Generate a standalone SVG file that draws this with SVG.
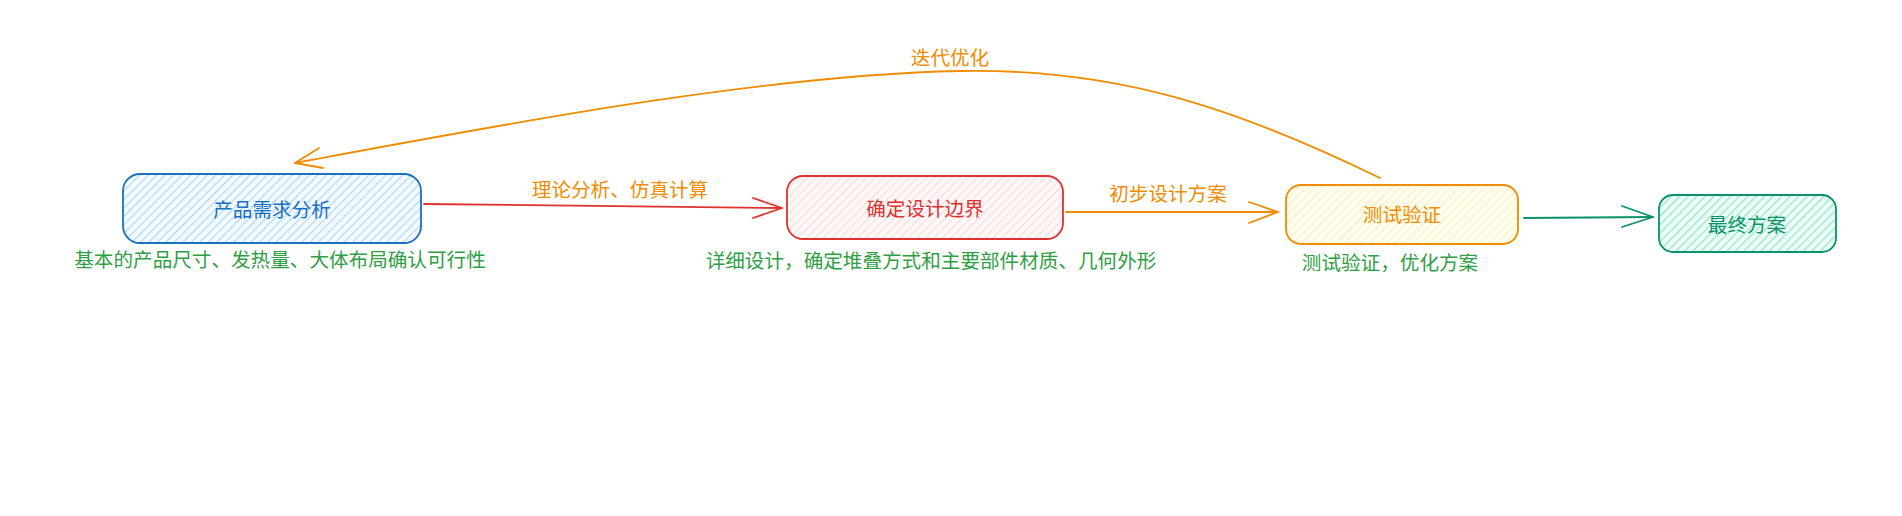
<svg xmlns="http://www.w3.org/2000/svg" width="1902" height="516" viewBox="0 0 1902 516">
<style>
text{font-family:"Noto Sans CJK SC","Noto Sans",sans-serif;font-size:19.6px;text-anchor:middle;dominant-baseline:central;stroke:none}
.box{stroke-width:1.8}
.conn{fill:none;stroke-width:1.8;stroke-linecap:round;stroke-linejoin:round}
.blue{fill:#1971c2}.red{fill:#e03131}.orange{fill:#f08c00}.teal{fill:#099268}.green{fill:#2f9e44}
</style>
<defs>
<pattern id="hBlue" patternUnits="userSpaceOnUse" width="6" height="6" patternTransform="rotate(45)"><rect width="6" height="6" fill="#f4faff"/><line x1="0" y1="0" x2="0" y2="6" stroke="#a5d8ff" stroke-width="2.2"/></pattern>
<pattern id="hRed" patternUnits="userSpaceOnUse" width="6" height="6" patternTransform="rotate(45)"><rect width="6" height="6" fill="#fff8f8"/><line x1="0" y1="0" x2="0" y2="6" stroke="#ffd6d6" stroke-width="2"/></pattern>
<pattern id="hYellow" patternUnits="userSpaceOnUse" width="6" height="6" patternTransform="rotate(45)"><rect width="6" height="6" fill="#fffdf2"/><line x1="0" y1="0" x2="0" y2="6" stroke="#fff0b0" stroke-width="2"/></pattern>
<pattern id="hTeal" patternUnits="userSpaceOnUse" width="6" height="6" patternTransform="rotate(45)"><rect width="6" height="6" fill="#eefcf7"/><line x1="0" y1="0" x2="0" y2="6" stroke="#8ce8c9" stroke-width="2.4"/></pattern>
</defs>

<g id="connectors">
<g id="edge-1-2">
<path class="conn" stroke="#e03131" d="M424,204 L782,208"/>
<path class="conn" stroke="#e03131" d="M753,198 L782,208 L753,218"/>
<text class="orange" x="620" y="188">理论分析、仿真计算</text>
</g>
<g id="edge-2-3">
<path class="conn" stroke="#f08c00" d="M1066,212 L1278,212"/>
<path class="conn" stroke="#f08c00" d="M1249,202 L1278,212 L1249,223"/>
<text class="orange" x="1168" y="192">初步设计方案</text>
</g>
<g id="edge-3-4">
<path class="conn" stroke="#099268" d="M1524,218 L1653,217"/>
<path class="conn" stroke="#099268" d="M1622,206 L1653,217 L1622,227"/>
</g>
<g id="edge-3-1">
<path class="conn" stroke="#f08c00" d="M1380,178 C1240,110 1120,68 960,71 C760,75 500,125 295,163"/>
<path class="conn" stroke="#f08c00" d="M319,148 L295,163 L323,168"/>
<text class="orange" x="950" y="56">迭代优化</text>
</g>
</g>

<g id="node-1">
<rect class="box" x="123" y="174" width="298" height="69" rx="17" fill="url(#hBlue)" stroke="#1971c2"/>
<text class="blue" x="272" y="208">产品需求分析</text>
<text class="green" x="280" y="258">基本的产品尺寸、发热量、大体布局确认可行性</text>
</g>

<g id="node-2">
<rect class="box" x="787" y="176" width="276" height="63" rx="16" fill="url(#hRed)" stroke="#e03131"/>
<text class="red" x="925" y="207">确定设计边界</text>
<text class="green" x="931" y="259">详细设计，确定堆叠方式和主要部件材质、几何外形</text>
</g>

<g id="node-3">
<rect class="box" x="1286" y="185" width="232" height="59" rx="15" fill="url(#hYellow)" stroke="#f08c00"/>
<text class="orange" x="1402" y="213">测试验证</text>
<text class="green" x="1390" y="261">测试验证，优化方案</text>
</g>

<g id="node-4">
<rect class="box" x="1659" y="195" width="177" height="57" rx="14" fill="url(#hTeal)" stroke="#099268"/>
<text class="teal" x="1747" y="223">最终方案</text>
</g>
</svg>
